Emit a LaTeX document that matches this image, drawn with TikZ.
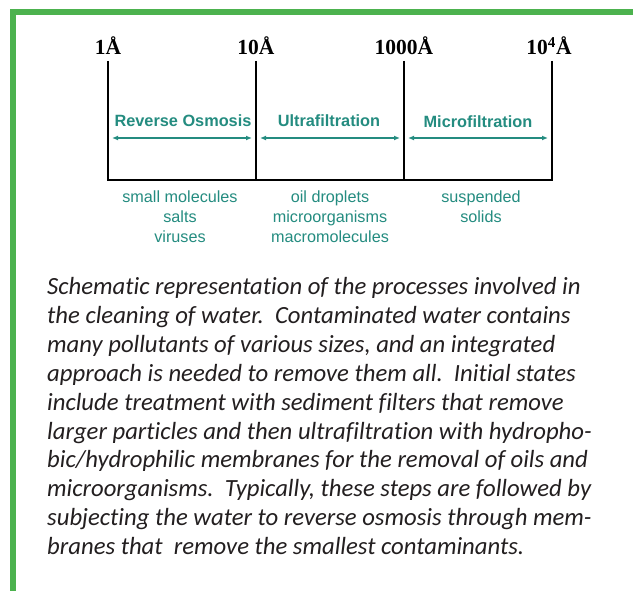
\documentclass[tikz,border=0pt]{standalone}
\usepackage{fontspec}
\setmainfont{Liberation Serif}
\newfontfamily\arialf{Liberation Sans}
\newfontfamily\capf[Ligatures=NoCommon]{Carlito}
\usetikzlibrary{arrows.meta}
\definecolor{framegreen}{RGB}{76,178,78}
\definecolor{tealc}{RGB}{36,140,128}
\definecolor{captext}{RGB}{35,31,32}
\tikzset{
  x=1pt, y=-1pt,
  scalelab/.style={font=\fontsize{21.5}{21.5}\selectfont\bfseries, inner sep=0pt, anchor=base},
  proclab/.style={font=\arialf\fontsize{16.3}{16.3}\selectfont\bfseries, text=tealc, inner sep=0pt},
  itemlab/.style={font=\arialf\fontsize{16.2}{20}\selectfont, text=tealc, inner sep=0pt, align=center, anchor=north},
  tickline/.style={draw=black, line width=2pt},
  rangearrow/.style={draw=tealc, line width=1.6pt, {Latex[length=6pt,width=5pt]}-{Latex[length=6pt,width=5pt]}},
  capline/.style={font=\capf\itshape\fontsize{24.7}{24.7}\selectfont, text=captext, inner sep=0pt, anchor=base west},
}
\begin{document}
\begin{tikzpicture}
\useasboundingbox (0,0) rectangle (633,591);
\fill[white] (0,0) rectangle (633,591);
% frame
\draw[framegreen, line width=6pt] (12.5,600) -- (12.5,12) -- (640,12);
% scale labels
\node[scalelab] (s1) at (108,55) {1Å};
\node[scalelab] (s2) at (256,55) {10Å};
\node[scalelab] (s3) at (404,55) {1000Å};
\node[scalelab] (s4) at (549,55) {10\textsuperscript{4}Å};
\coordinate (b1) at (108,180);
\coordinate (b2) at (256,180);
\coordinate (b3) at (404,180);
\coordinate (b4) at (552,180);
\coordinate (t1) at (108,61);
\coordinate (t2) at (256,61);
\coordinate (t3) at (404,61);
\coordinate (t4) at (552,61);
\draw[tickline] (t1) -- (b1);
\draw[tickline] (t2) -- (b2);
\draw[tickline] (t3) -- (b3);
\draw[tickline] (t4) -- (b4);
\draw[tickline, line cap=rect] (b1) -- (b4);
% process labels
\node[proclab] (p1) at (183,121) {Reverse Osmosis};
\node[proclab] (p2) at (329,121) {Ultrafiltration};
\node[proclab] (p3) at (478,122) {Microfiltration};
\coordinate (a1l) at (112,138);
\coordinate (a1r) at (252,138);
\coordinate (a2l) at (260,138);
\coordinate (a2r) at (400,138);
\coordinate (a3l) at (408,138);
\coordinate (a3r) at (548,138);
\draw[rangearrow] (a1l) -- (a1r);
\draw[rangearrow] (a2l) -- (a2r);
\draw[rangearrow] (a3l) -- (a3r);
% items
\node[itemlab] (i1) at (180,191) {small molecules\\salts\\viruses};
\node[itemlab] (i2) at (330,191) {oil droplets\\microorganisms\\macromolecules};
\node[itemlab] (i3) at (481,191) {suspended\\solids};
% caption
\node[capline] (c1) at (47,295) {Schematic representation of the processes involved in};
\node[capline] (c2) at (47,323.8) {the cleaning of water.\ \ Contaminated water contains};
\node[capline] (c3) at (47,352.6) {many pollutants of various sizes, and an integrated};
\node[capline] (c4) at (47,381.4) {approach is needed to remove them all.\ \ Initial states};
\node[capline] (c5) at (47,410.2) {include treatment with sediment filters that remove};
\node[capline] (c6) at (47,439) {larger particles and then ultrafiltration with hydropho-};
\node[capline] (c7) at (47,467.8) {bic/hydrophilic membranes for the removal of oils and};
\node[capline] (c8) at (47,496.6) {microorganisms.\ \ Typically, these steps are followed by};
\node[capline] (c9) at (47,525.4) {subjecting the water to reverse osmosis through mem-};
\node[capline] (c10) at (47,554.2) {branes that\ \ remove the smallest contaminants.};
\end{tikzpicture}
\end{document}
